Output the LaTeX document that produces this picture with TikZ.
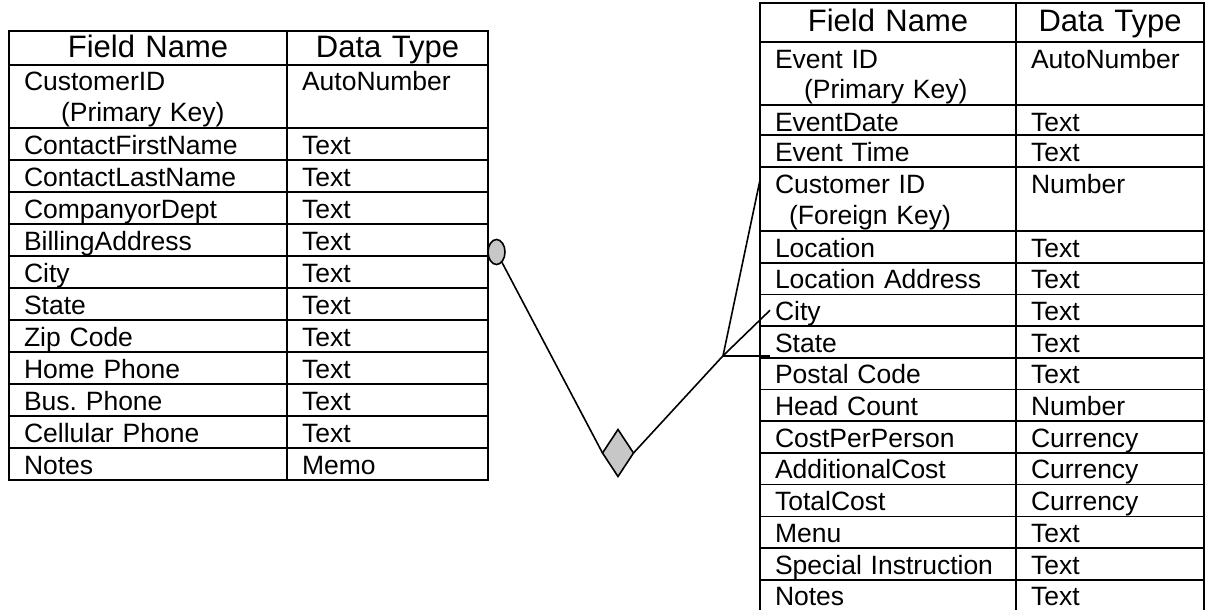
\documentclass[tikz,border=0pt]{standalone}
\usepackage{fontspec}
\setmainfont{Liberation Sans}
\usetikzlibrary{shapes.geometric}

\newcommand\bodyfont{\fontsize{26.5}{31}\selectfont\frenchspacing}
\newcommand\headfont{\fontsize{31}{34}\selectfont}

\begin{document}
\begin{tikzpicture}[
  x=1pt, y=-1pt,
  cell/.style = {
    draw=black,
    line width=1.6pt,
    anchor=north west,
    align=left,
    inner xsep=15pt,
    inner ysep=0pt,
    outer sep=0pt,
    text height=26pt,
    font=\bodyfont
  },
  hdr/.style = {align=center, font=\headfont},
  lfield/.style = {cell, text width=248pt},
  ltype/.style = {cell, text width=171pt},
  rfield/.style = {cell, text width=226pt},
  rtype/.style = {cell, text width=158pt},
  link/.style = {line width=1.6pt},
  optional/.style = {ellipse, draw=black, line width=1.6pt, fill=black!22,
    minimum width=17pt, minimum height=25pt, inner sep=0pt, outer sep=0pt},
  relation/.style = {diamond, draw=black, line width=1.6pt, fill=black!22,
    minimum width=31pt, minimum height=47pt, inner sep=0pt, outer sep=0pt}
]
\useasboundingbox (0,0) rectangle (1210,610);

% Table 1: customers (left)
\node[lfield, hdr, text height=27pt, text depth=7pt] (chdr-f) at (9,31) {Field Name};
\node[ltype, hdr, text height=27pt, text depth=7pt] (chdr-t) at (chdr-f.north east) {Data Type};

\foreach \nm/\fld/\typ/\h [remember=\nm as \prev (initially chdr)] in {
    cid/{CustomerID\\\hspace*{37pt}(Primary Key)}/AutoNumber/63,
    cfirst/ContactFirstName/Text/32,
    clast/ContactLastName/Text/32,
    ccomp/CompanyorDept/Text/32,
    cbill/BillingAddress/Text/32,
    ccity/City/Text/32,
    cstate/State/Text/32,
    czip/Zip Code/Text/32,
    chome/Home Phone/Text/32,
    cbus/Bus. Phone/Text/32,
    ccell/Cellular Phone/Text/32,
    cnotes/Notes/Memo/32} {
  \node[lfield, text depth=\h pt-26pt] (\nm-f) at (\prev-f.south west) {\fld};
  \node[ltype, text depth=\h pt-26pt] (\nm-t) at (\nm-f.north east) {\typ};
}

% Table 2: events (right)
\node[rfield, hdr, text height=29pt, text depth=10pt] (ehdr-f) at (760,3) {Field Name};
\node[rtype, hdr, text height=29pt, text depth=10pt] (ehdr-t) at (ehdr-f.north east) {Data Type};

\foreach \nm/\fld/\typ/\h [remember=\nm as \prev (initially ehdr)] in {
    eid/{Event ID\\\hspace*{29pt}(Primary Key)}/AutoNumber/63,
    edate/EventDate/Text/30,
    etime/Event Time/Text/32,
    ecid/{Customer ID\\\hspace*{14pt}(Foreign Key)}/Number/64,
    eloc/Location/Text/31.7,
    eaddr/Location Address/Text/31.7,
    ecity/City/Text/31.7,
    estate/State/Text/31.7,
    epost/Postal Code/Text/31.7,
    ehead/Head Count/Number/31.7,
    ecpp/CostPerPerson/Currency/31.7,
    eadd/AdditionalCost/Currency/31.7,
    etot/TotalCost/Currency/31.7,
    emenu/Menu/Text/31.7,
    espec/Special Instruction/Text/31.7,
    enotes/Notes/Text/32} {
  \node[rfield, text depth=\h pt-26pt] (\nm-f) at (\prev-f.south west) {\fld};
  \node[rtype, text depth=\h pt-26pt] (\nm-t) at (\nm-f.north east) {\typ};
}

% Relationship symbols
\node[optional, anchor=west] (custopt) at ([yshift=-12pt]cbill-t.east) {};
\node[relation] (books) at (618,453) {};
\coordinate (foot) at ([xshift=-37pt, yshift=2pt]estate-f.south west);

% === LINKS ===
\draw[link] (custopt) -- (books.west);
\draw[link] (books.east) -- (foot);

% crow's foot on the event side
\draw[link] (foot) -- ([yshift=-13pt]ecid-f.north west);
\draw[link] (foot) -- ([xshift=10pt]ecity-f.west);
\draw[link] (foot) -- ([xshift=10pt, yshift=2pt]estate-f.south west);

\end{tikzpicture}
\end{document}
